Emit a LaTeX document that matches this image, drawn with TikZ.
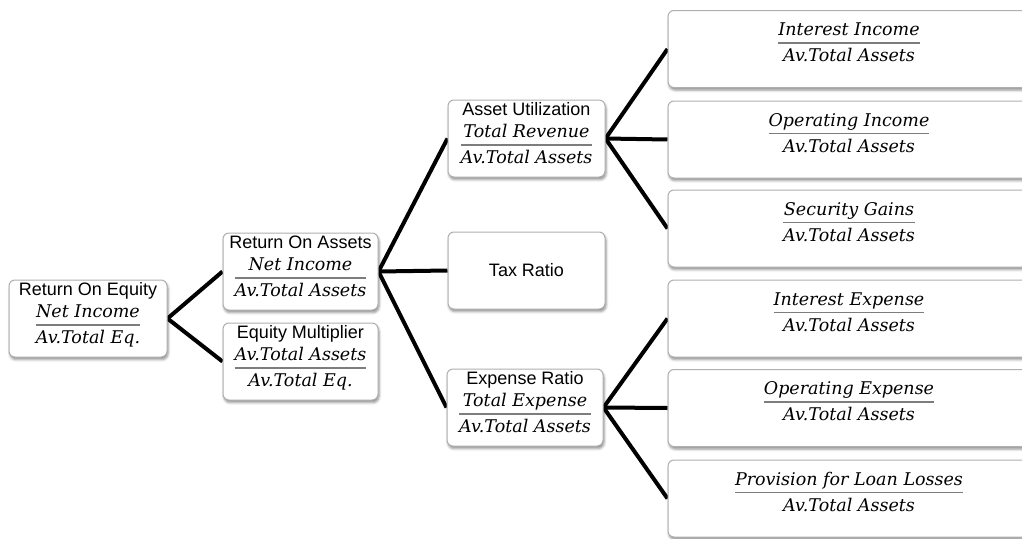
\documentclass[tikz,border=0pt]{standalone}
\usepackage{fontspec}
\setsansfont{Liberation Sans}
\newfontfamily\ratiofamily{DejaVu Serif}
\usepackage{colortbl}
\usetikzlibrary{shadows.blur}
\definecolor{boxgray}{RGB}{175,175,175}
\definecolor{rulegray}{RGB}{125,125,125}
\arrayrulecolor{rulegray}
\setlength\arrayrulewidth{1.6pt}
\pgfdeclarelayer{links}
\pgfsetlayers{links,main}
\newcommand\titlefont{\fontsize{18}{21}\selectfont\sffamily}
\newcommand\ratiofont{\fontsize{17.5}{20}\selectfont\ratiofamily\itshape}
% a fraction with a grey bar as wide as its longer line
\newcommand\ratio[2]{%
  \begin{tabular}[t]{@{}c@{}}%
    \ratiofont #1\rule[-6.7pt]{0pt}{23.2pt}\\\hline
    \ratiofont #2\rule[-6pt]{0pt}{23.7pt}%
  \end{tabular}}
% a title above a fraction
\newcommand\card[3]{%
  \begin{tabular}{@{}c@{}}%
    \titlefont #1\rule[-6pt]{0pt}{20pt}\\
    \ratio{#2}{#3}%
  \end{tabular}}
\begin{document}
\begin{tikzpicture}[x=1pt,y=-1pt,
  box/.style={draw=boxgray, line width=1pt, rounded corners=6pt, fill=white,
    inner sep=0pt, minimum height=77pt,
    blur shadow={shadow xshift=1pt, shadow yshift=-2.5pt, shadow opacity=45,
      shadow blur radius=2.5pt}},
  mid/.style={box, minimum width=157pt},
  wide/.style={box, minimum width=362pt},
  content/.style={inner sep=0pt},
  link/.style={line width=4pt, black}]
\useasboundingbox (0,0) rectangle (1022,538);

% first level
\node[mid, minimum width=158pt] (roe) at (88,318.5) {};
\node[content] (roe-t) at ([yshift=3.25pt]roe.center) {\card{Return On Equity}{Net Income}{Av.Total Eq.}};

% second level
\node[mid, minimum width=155pt] (roa) at (300.5,271.5) {};
\node[content] (roa-t) at ([yshift=3.25pt]roa.center) {\card{Return On Assets}{Net Income}{Av.Total Assets}};
\node[mid, minimum width=155pt] (em) at (300.5,361.5) {};
\node[content] (em-t) at ([yshift=3.25pt]em.center) {\card{Equity Multiplier}{Av.Total Assets}{Av.Total Eq.}};

% third level
\node[mid] (au) at (526.5,138.5) {};
\node[content] (au-t) at ([yshift=3.25pt]au.center) {\card{Asset Utilization}{Total Revenue}{Av.Total Assets}};
\node[mid] (tax) at (526.5,270.5) {\titlefont Tax Ratio};
\node[mid, minimum width=156pt] (er) at (525,407.5) {};
\node[content] (er-t) at ([yshift=3.25pt]er.center) {\card{Expense Ratio}{Total Expense}{Av.Total Assets}};

% fourth level
\node[wide] (ii) at (849,49) {};
\node[content] (ii-t) at ([yshift=5.75pt]ii.center) {\ratio{Interest Income}{Av.Total Assets}};
\node[wide] (oi) at (849,139.5) {};
\node[content] (oi-t) at ([yshift=5.75pt]oi.center) {\ratio{Operating Income}{Av.Total Assets}};
\node[wide] (sg) at (849,228.5) {};
\node[content] (sg-t) at ([yshift=5.75pt]sg.center) {\ratio{Security Gains}{Av.Total Assets}};
\node[wide] (ie) at (849,318.5) {};
\node[content] (ie-t) at ([yshift=5.75pt]ie.center) {\ratio{Interest Expense}{Av.Total Assets}};
\node[wide] (oe) at (849,408) {};
\node[content] (oe-t) at ([yshift=5.75pt]oe.center) {\ratio{Operating Expense}{Av.Total Assets}};
\node[wide] (pl) at (849,498.5) {};
\node[content] (pl-t) at ([yshift=5.75pt]pl.center) {\ratio{Provision for Loan Losses}{Av.Total Assets}};

% connectors
\begin{pgfonlayer}{links}
\draw[link] (roe.east) -- (roa.west);
\draw[link] (roe.east) -- (em.west);
\draw[link] (roa.east) -- (au.west);
\draw[link] (roa.east) -- (tax.west);
\draw[link] (roa.east) -- (er.west);
\draw[link] (au.east) -- (ii.west);
\draw[link] (au.east) -- (oi.west);
\draw[link] (au.east) -- (sg.west);
\draw[link] (er.east) -- (ie.west);
\draw[link] (er.east) -- (oe.west);
\draw[link] (er.east) -- (pl.west);
\end{pgfonlayer}
\end{tikzpicture}
\end{document}
